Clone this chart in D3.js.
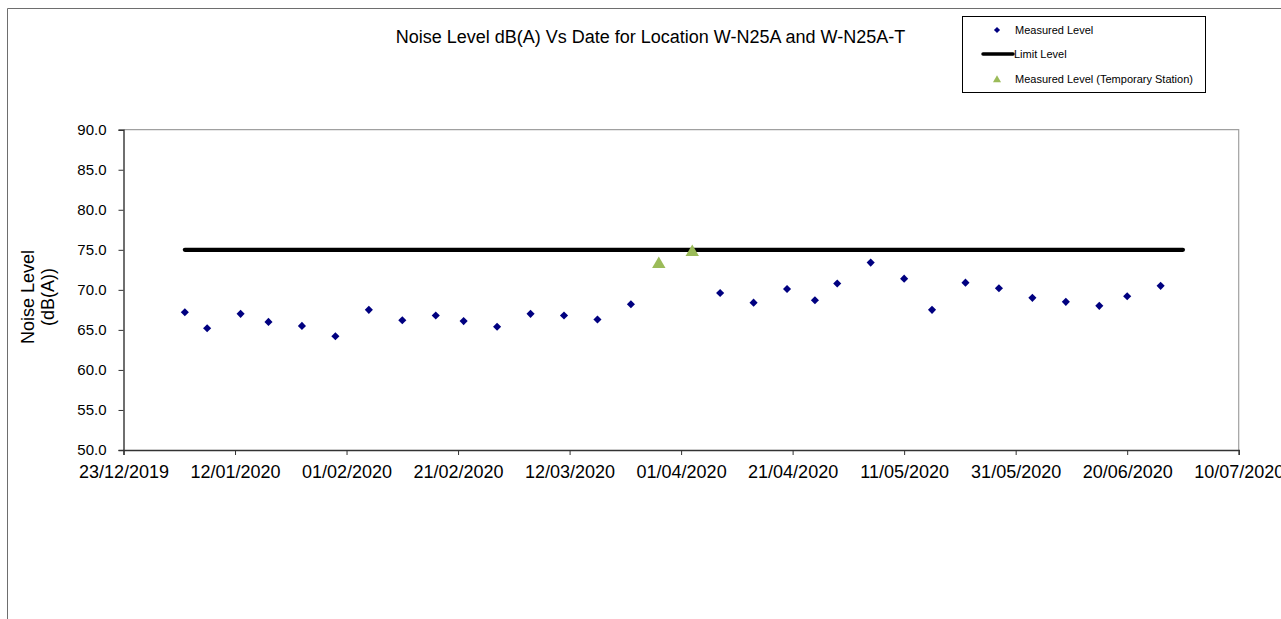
<!DOCTYPE html>
<html>
<head>
<meta charset="utf-8">
<script src="https://cdn.jsdelivr.net/npm/d3@7"></script>
<style>
  html, body { margin: 0; padding: 0; background: #fff; }
  svg { display: block; font-family: "Liberation Sans", Arial, sans-serif; }
</style>
</head>
<body>
<svg id="chart" width="1281" height="619"></svg>
<script>
// Noise monitoring results, location W-N25A (regular) and W-N25A-T (temporary)
const measuredDates = ["03/01/2020","07/01/2020","13/01/2020","18/01/2020","24/01/2020","30/01/2020",
  "05/02/2020","11/02/2020","17/02/2020","22/02/2020","28/02/2020","05/03/2020","11/03/2020",
  "17/03/2020","23/03/2020","08/04/2020","14/04/2020","20/04/2020","25/04/2020","29/04/2020",
  "05/05/2020","11/05/2020","16/05/2020","22/05/2020","28/05/2020","03/06/2020","09/06/2020",
  "15/06/2020","20/06/2020","26/06/2020"];
const measuredValues = [67.2, 65.2, 67.0, 66.0, 65.5, 64.2,
  67.5, 66.2, 66.8, 66.1, 65.4, 67.0, 66.8,
  66.3, 68.2, 69.6, 68.4, 70.1, 68.7, 70.8,
  73.4, 71.4, 67.5, 70.9, 70.2, 69.0, 68.5,
  68.0, 69.2, 70.5];

const tempDates = ["28/03/2020", "03/04/2020"];
const tempValues = [73.2, 74.7];

const limitDates = ["03/01/2020", "30/06/2020"];
const limitValues = [75, 75];

const xTickLabels = ["23/12/2019","12/01/2020","01/02/2020","21/02/2020","12/03/2020","01/04/2020",
  "21/04/2020","11/05/2020","31/05/2020","20/06/2020","10/07/2020"];
const yTickValues = [50, 55, 60, 65, 70, 75, 80, 85, 90];

const titleText = "Noise Level dB(A) Vs Date for Location W-N25A and W-N25A-T";
const yTitleLines = ["Noise Level", "(dB(A))"];
const legendLabels = ["Measured Level", "Limit Level", "Measured Level (Temporary Station)"];

const parse = d3.utcParse("%d/%m/%Y");
const fmt = d3.utcFormat("%d/%m/%Y");

const svg = d3.select("#chart");
const plot = { left: 123.5, right: 1238.7, top: 129.7, bottom: 450 };

const xTicks = xTickLabels.map(parse);
const x = d3.scaleUtc()
  .domain([xTicks[0], xTicks[xTicks.length - 1]])
  .range([plot.left, plot.right]);
const y = d3.scaleLinear().domain([50, 90]).range([plot.bottom, plot.top]);

// outer chart frame
svg.append("path")
  .attr("d", "M7.5,619 V8.5 H1281")
  .attr("fill", "none").attr("stroke", "#6e6e6e").attr("stroke-width", 1);

// plot area border (top / right)
svg.append("path")
  .attr("d", `M${plot.left},${plot.top} H${plot.right} V${plot.bottom}`)
  .attr("fill", "none").attr("stroke", "#a0a0a0").attr("stroke-width", 1.2);

// title
svg.append("text")
  .attr("x", 650.5).attr("y", 43)
  .attr("text-anchor", "middle")
  .attr("font-size", 18).attr("fill", "#000")
  .text(titleText);

// axes
const xAxis = d3.axisBottom(x)
  .tickValues(xTicks)
  .tickFormat(fmt)
  .tickSize(5).tickPadding(10.5);
const gx = svg.append("g")
  .attr("transform", `translate(0,${plot.bottom})`)
  .call(xAxis);
gx.select(".domain").attr("stroke", "#333").attr("stroke-width", 1.4);
gx.selectAll(".tick line").attr("stroke", "#333");
gx.selectAll("text").attr("font-size", 18).attr("fill", "#000")
  .attr("font-family", "Liberation Sans, Arial, sans-serif");

const yAxis = d3.axisLeft(y)
  .tickValues(yTickValues)
  .tickFormat(d3.format(".1f"))
  .tickSize(5).tickPadding(12);
const gy = svg.append("g")
  .attr("transform", `translate(${plot.left},0)`)
  .call(yAxis);
gy.select(".domain").attr("stroke", "#333").attr("stroke-width", 1.4);
gy.selectAll(".tick line").attr("stroke", "#333");
gy.selectAll("text").attr("font-size", 15).attr("fill", "#000")
  .attr("font-family", "Liberation Sans, Arial, sans-serif");

// y-axis title (two lines, rotated)
const yTitle = svg.append("text")
  .attr("transform", "translate(0,297) rotate(-90)")
  .attr("text-anchor", "middle")
  .attr("font-size", 18).attr("fill", "#000");
yTitleLines.forEach((t, i) => {
  yTitle.append("tspan")
    .attr("x", 0).attr("y", 33.5 + i * 20)
    .text(t);
});

// limit level line
const limitData = limitDates.map((d, i) => ({ date: parse(d), value: limitValues[i] }));
svg.append("path")
  .datum(limitData)
  .attr("d", d3.line().x(d => x(d.date)).y(d => y(d.value)))
  .attr("fill", "none").attr("stroke", "#000")
  .attr("stroke-width", 4.2).attr("stroke-linecap", "round");

// measured level (diamonds)
const diamond = d3.symbol().type(d3.symbolDiamond2);
const measured = measuredDates.map((d, i) => ({ date: parse(d), value: measuredValues[i] }));
svg.append("g").selectAll("path")
  .data(measured)
  .join("path")
  .attr("transform", d => `translate(${x(d.date)},${y(d.value)})`)
  .attr("d", diamond.size(42)())
  .attr("fill", "#000080");

// measured level, temporary station (triangles)
const tri = d3.symbol().type(d3.symbolTriangle);
const temp = tempDates.map((d, i) => ({ date: parse(d), value: tempValues[i] }));
svg.append("g").selectAll("path")
  .data(temp)
  .join("path")
  .attr("transform", d => `translate(${x(d.date)},${y(d.value)})`)
  .attr("d", tri.size(78)())
  .attr("fill", "#9bbb59");

// legend
const lg = svg.append("g");
lg.append("rect")
  .attr("x", 962.5).attr("y", 16.5).attr("width", 243).attr("height", 76)
  .attr("fill", "#fff").attr("stroke", "#000").attr("stroke-width", 1);
const rows = [30, 54, 79];
lg.append("path")
  .attr("transform", `translate(997,${rows[0]})`)
  .attr("d", diamond.size(24)())
  .attr("fill", "#000080");
lg.append("line")
  .attr("x1", 983).attr("x2", 1013).attr("y1", rows[1]).attr("y2", rows[1])
  .attr("stroke", "#000").attr("stroke-width", 3.5).attr("stroke-linecap", "round");
lg.append("path")
  .attr("transform", `translate(997,${rows[2] + 1})`)
  .attr("d", tri.size(28)())
  .attr("fill", "#9bbb59");
legendLabels.forEach((t, i) => {
  lg.append("text")
    .attr("x", i === 1 ? 1014 : 1015).attr("y", rows[i]).attr("dy", "0.35em")
    .attr("font-size", 11).attr("fill", "#000")
    .text(t);
});
</script>
</body>
</html>
